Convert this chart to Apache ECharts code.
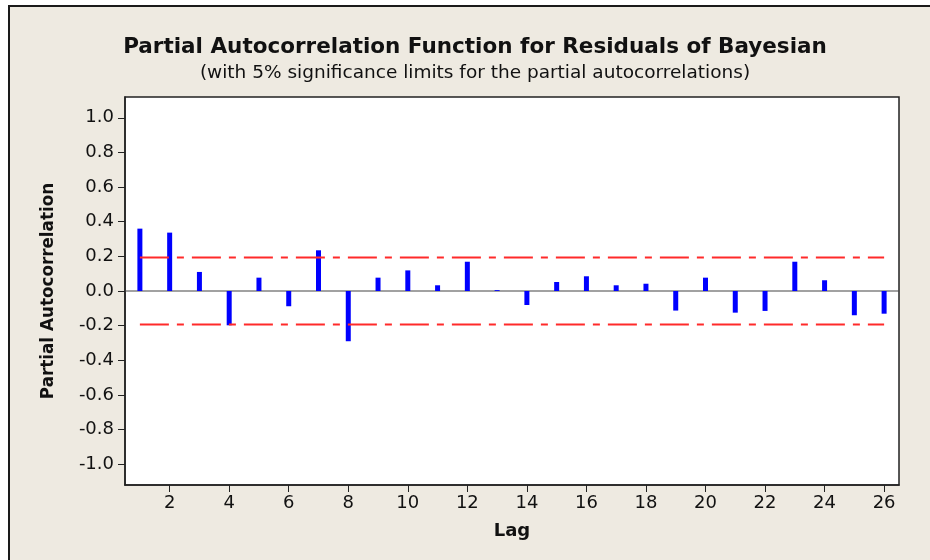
<!DOCTYPE html>
<html>
<head>
<meta charset="utf-8">
<script src="https://cdn.jsdelivr.net/npm/echarts@6/dist/echarts.min.js"></script>
<style>
html,body{margin:0;padding:0;background:#ffffff;}
#chart{width:930px;height:560px;}
</style>
</head>
<body>
<div id="chart"></div>
<script>
// Data
var lags = [1,2,3,4,5,6,7,8,9,10,11,12,13,14,15,16,17,18,19,20,21,22,23,24,25,26];
var pacf = [0.36,0.337,0.11,-0.198,0.077,-0.088,0.235,-0.29,0.077,0.119,0.033,0.169,0.005,-0.081,0.052,0.085,0.033,0.042,-0.113,0.077,-0.125,-0.115,0.169,0.062,-0.14,-0.131];
var sigLimit = 0.193;
var xTicks = [2,4,6,8,10,12,14,16,18,20,22,24,26];
var yTicks = [-1.0,-0.8,-0.6,-0.4,-0.2,0.0,0.2,0.4,0.6,0.8,1.0];
var titleText = 'Partial Autocorrelation Function for Residuals of Bayesian';
var subtitleText = '(with 5% significance limits for the partial autocorrelations)';

var barData = lags.map(function(l, i){ return [l, pacf[i]]; });
var upper = [[lags[0], sigLimit], [lags[lags.length-1], sigLimit]];
var lower = [[lags[0], -sigLimit], [lags[lags.length-1], -sigLimit]];

var font = 'DejaVu Sans';
var chart = echarts.init(document.getElementById('chart'), null, {renderer:'canvas'});
chart.setOption({
  backgroundColor: '#ffffff',
  animation: false,
  graphic: [{
    type: 'rect', z: -10, silent: true,
    shape: {x: 9, y: 6, width: 940, height: 570},
    style: {fill: '#eeeae1', stroke: '#1a1a1a', lineWidth: 2}
  }],
  title: {
    text: titleText,
    subtext: subtitleText,
    left: 470, top: 31,
    textAlign: 'center',
    itemGap: 6,
    textStyle: {fontFamily: font, fontWeight: 'bold', fontSize: 21.5, color: '#111111'},
    subtextStyle: {fontFamily: font, fontSize: 18.5, color: '#111111'}
  },
  grid: {
    left: 125, right: 31, top: 97, bottom: 75,
    show: true, backgroundColor: '#ffffff', borderColor: '#222222', borderWidth: 1.5
  },
  xAxis: {
    type: 'value', min: 0.5, max: 26.5,
    name: 'Lag', nameLocation: 'middle', nameGap: 37,
    nameTextStyle: {fontFamily: font, fontWeight: 'bold', fontSize: 18, color: '#111111'},
    axisLine: {show: true, onZero: false, lineStyle: {color: '#222222', width: 1.5}},
    axisTick: {show: true, length: 7, customValues: xTicks, lineStyle: {color: '#222222'}},
    axisLabel: {customValues: xTicks, margin: 9, fontFamily: font, fontSize: 18, color: '#111111'},
    splitLine: {show: false}
  },
  yAxis: {
    type: 'value', min: -1.12, max: 1.12,
    name: 'Partial Autocorrelation', nameLocation: 'middle', nameGap: 68, nameRotate: 90,
    nameTextStyle: {fontFamily: font, fontWeight: 'bold', fontSize: 16.8, color: '#111111'},
    axisLine: {show: true, onZero: false, lineStyle: {color: '#222222', width: 1.5}},
    axisTick: {show: true, length: 7, customValues: yTicks, lineStyle: {color: '#222222'}},
    axisLabel: {customValues: yTicks, margin: 11, fontFamily: font, fontSize: 18, color: '#111111',
      formatter: function(v){ return v.toFixed(1); }},
    splitLine: {show: false}
  },
  series: [
    {
      type: 'line', data: [[0.5, 0], [26.5, 0]], symbol: 'none', silent: true, z: 1,
      lineStyle: {color: '#444444', width: 1.2}
    },
    {
      type: 'bar', data: barData, barWidth: 5, z: 3,
      itemStyle: {color: '#0000ff'}
    },
    {
      type: 'line', data: upper, symbol: 'none', z: 4,
      lineStyle: {color: '#ff2a2a', width: 2, type: [29, 8, 7, 8]}
    },
    {
      type: 'line', data: lower, symbol: 'none', z: 4,
      lineStyle: {color: '#ff2a2a', width: 2, type: [29, 8, 7, 8]}
    }
  ]
});
</script>
</body>
</html>
